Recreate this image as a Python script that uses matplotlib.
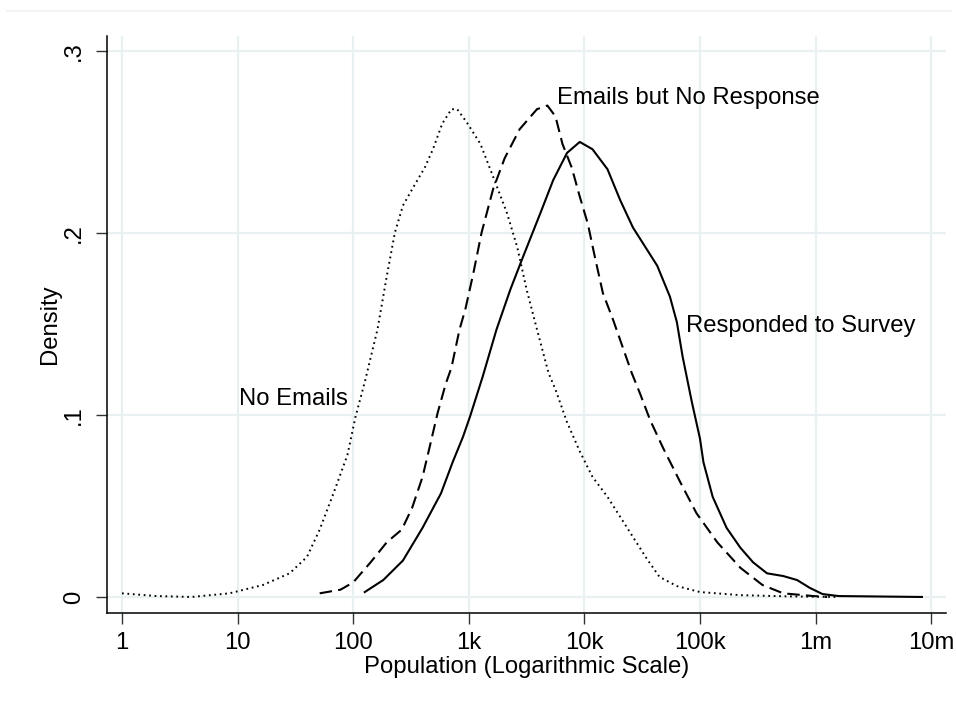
"""
Kernel densities of city population by email / survey response status.
"""
import matplotlib
matplotlib.use("Agg")
import matplotlib.pyplot as plt
from matplotlib.lines import Line2D
import numpy as np

# log10(population) and density
no_email_logpop = [0.00, 0.30, 0.60, 0.93, 1.22, 1.45, 1.60, 1.71, 1.83, 1.95, 2.02, 2.10,
                   2.21, 2.29, 2.36, 2.43, 2.51, 2.62, 2.69, 2.77, 2.85, 2.90, 2.98, 3.10,
                   3.21, 3.33, 3.42, 3.50, 3.59, 3.69, 3.75, 3.85, 3.96, 4.07, 4.20, 4.31,
                   4.42, 4.54, 4.65, 4.80, 5.00, 5.35, 5.78, 6.20]
no_email_dens = [0.002, 0.0005, 0.0, 0.002, 0.0066, 0.013, 0.022, 0.037, 0.057, 0.078, 0.099, 0.118,
                 0.147, 0.176, 0.200, 0.215, 0.224, 0.236, 0.246, 0.260, 0.268, 0.268, 0.261, 0.249,
                 0.231, 0.211, 0.192, 0.169, 0.147, 0.123, 0.114, 0.096, 0.080, 0.066, 0.055, 0.044,
                 0.033, 0.021, 0.011, 0.006, 0.0027, 0.001, 0.0003, 0.0]

no_resp_logpop = [1.71, 1.89, 2.00, 2.15, 2.29, 2.42, 2.51, 2.60, 2.66, 2.73, 2.80, 2.85,
                  2.92, 2.97, 3.04, 3.11, 3.21, 3.31, 3.44, 3.59, 3.68, 3.75, 3.81, 3.89,
                  3.96, 4.03, 4.09, 4.16, 4.25, 4.41, 4.48, 4.57, 4.68, 4.83, 4.97, 5.15,
                  5.35, 5.54, 5.72, 5.98, 6.10]
no_resp_dens = [0.002, 0.004, 0.008, 0.019, 0.030, 0.037, 0.049, 0.066, 0.082, 0.101, 0.117, 0.126,
                0.147, 0.158, 0.178, 0.200, 0.224, 0.241, 0.257, 0.268, 0.270, 0.264, 0.249, 0.236,
                0.220, 0.205, 0.187, 0.167, 0.152, 0.123, 0.112, 0.097, 0.082, 0.063, 0.046, 0.030,
                0.016, 0.0066, 0.002, 0.0005, 0.0]

resp_logpop = [2.10, 2.26, 2.43, 2.60, 2.76, 2.86, 2.95, 3.01, 3.12, 3.24, 3.36, 3.47,
               3.62, 3.73, 3.85, 3.96, 4.07, 4.20, 4.31, 4.42, 4.51, 4.63, 4.74, 4.80,
               4.85, 4.93, 5.00, 5.03, 5.11, 5.23, 5.35, 5.46, 5.58, 5.72, 5.84, 5.95,
               6.06, 6.20, 6.92]
resp_dens = [0.0027, 0.0093, 0.020, 0.038, 0.057, 0.074, 0.088, 0.099, 0.121, 0.147, 0.169, 0.187,
             0.211, 0.229, 0.244, 0.250, 0.246, 0.235, 0.218, 0.203, 0.194, 0.182, 0.165, 0.151,
             0.132, 0.107, 0.087, 0.074, 0.055, 0.038, 0.027, 0.019, 0.013, 0.0115, 0.0093, 0.005,
             0.0016, 0.0005, 0.0]

x_ticks = [1, 10, 100, 1e3, 1e4, 1e5, 1e6, 1e7]
x_ticklabels = ["1", "10", "100", "1k", "10k", "100k", "1m", "10m"]
y_ticks = [0, 0.1, 0.2, 0.3]
y_ticklabels = ["0", ".1", ".2", ".3"]

plt.rcParams['font.family'] = ['Liberation Sans', 'DejaVu Sans']
FS = 17.2
GRID = "#E9F0F2"

fig = plt.figure(figsize=(9.56, 7.02), dpi=100)
ax = fig.add_axes([0.1119, 0.1268, 0.8776, 0.8219])

ax.set_xscale('log')
for xt in x_ticks:
    ax.axvline(xt, color=GRID, lw=1.6, zorder=0)
for yt in y_ticks:
    ax.axhline(yt, color=GRID, lw=1.6, zorder=0)

ax.plot(10 ** np.array(no_email_logpop), no_email_dens, color="black", lw=1.4,
        linestyle=(0, (0.9, 1.9)), dash_capstyle='butt')
ax.plot(10 ** np.array(no_resp_logpop), no_resp_dens, color="black", lw=1.5,
        linestyle=(0, (6, 3)))
ax.plot(10 ** np.array(resp_logpop), resp_dens, color="black", lw=1.5)

ax.text(10 ** 1.01, 0.109, "No Emails", fontsize=FS, ha='left', va='center')
ax.text(10 ** 3.76, 0.274, "Emails but No Response", fontsize=FS, ha='left', va='center')
ax.text(10 ** 4.88, 0.149, "Responded to Survey", fontsize=FS, ha='left', va='center')

ax.set_xlim(10 ** -0.13, 10 ** 7.128)
ax.set_ylim(-0.0088, 0.3082)
ax.set_xticks(x_ticks)
ax.set_xticklabels(x_ticklabels)
ax.minorticks_off()
ax.set_yticks(y_ticks)
ax.set_yticklabels(y_ticklabels, rotation=90, va='center')
ax.tick_params(axis='both', direction='out', length=8, width=1.0, color="#333333",
               labelsize=FS, pad=6)
ax.tick_params(axis='y', pad=8)

for side in ['top', 'right']:
    ax.spines[side].set_visible(False)
for side in ['left', 'bottom']:
    ax.spines[side].set_linewidth(1.1)

ax.set_xlabel("Population (Logarithmic Scale)", fontsize=FS, labelpad=1)
ax.set_ylabel("Density", fontsize=FS, labelpad=1)

# thin frame line across the top of the graph region
fig.add_artist(Line2D([0.007, 0.995], [1 - 10.5 / 702] * 2, transform=fig.transFigure,
                      color="#EDF2F3", lw=1.2))

fig.savefig("out.png", dpi=100)
plt.close(fig)
